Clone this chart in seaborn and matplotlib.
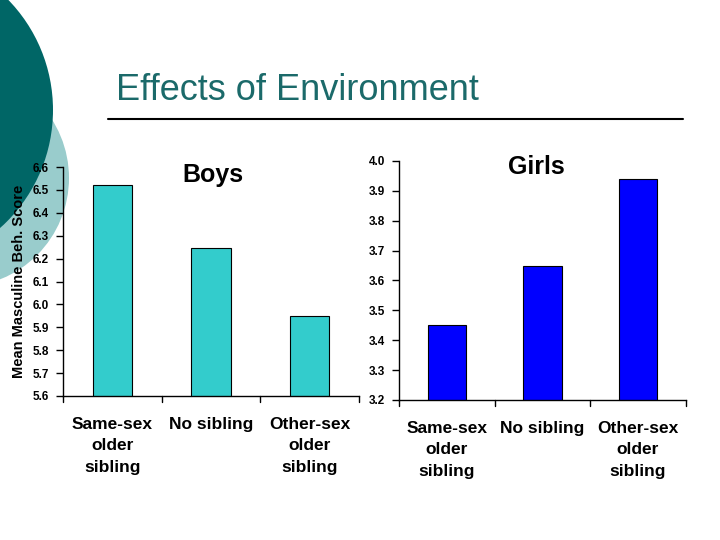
import matplotlib
matplotlib.use("Agg")
import matplotlib.pyplot as plt
import seaborn as sns
import pandas as pd
from matplotlib.patches import Circle

sns.set_style("white")
plt.rcParams["font.family"] = ["Liberation Sans", "DejaVu Sans"]
plt.rcParams["text.color"] = "black"
plt.rcParams["axes.labelcolor"] = "black"
plt.rcParams["xtick.color"] = "black"
plt.rcParams["ytick.color"] = "black"

# Data
categories = ["Same-sex\nolder\nsibling", "No sibling", "Other-sex\nolder\nsibling"]
boys_scores = [6.52, 6.245, 5.95]
girls_scores = [3.45, 3.65, 3.94]

boys_df = pd.DataFrame({"group": categories, "score": boys_scores})
girls_df = pd.DataFrame({"group": categories, "score": girls_scores})

fig = plt.figure(figsize=(7.2, 5.4), dpi=100)

# ---------------------------
# Slide decoration
# ---------------------------
bg = fig.add_axes([0, 0, 1, 1], zorder=0)
bg.set_xlim(0, 720)
bg.set_ylim(540, 0)
bg.axis("off")
bg.add_patch(Circle((-40, 178), 109, color="#99cccc", lw=0))
bg.add_patch(Circle((-105, 110), 158, color="#006666", lw=0))
bg.text(116, 90, "Effects of Environment", fontsize=26, color="#1b6a6a",
        ha="left", va="center")
bg.plot([108, 683], [119, 119], color="black", lw=1.5)


def draw_panel(ax, df, color, ylim, yticks, title, title_x, title_y):
    sns.barplot(data=df, x="group", y="score", color=color, width=0.4,
                edgecolor="black", linewidth=0.8, saturation=1, ax=ax)
    ax.set_ylim(*ylim)
    ax.set_xlim(-0.5, 2.5)
    ax.set_yticks(yticks)
    ax.set_yticklabels([f"{t:.1f}" for t in yticks], fontsize=8.5,
                       fontweight="bold")
    ax.set_xticks([0, 1, 2])
    ax.set_xticklabels(df["group"], fontsize=12.5, fontweight="bold",
                       linespacing=1.55)
    ax.tick_params(axis="x", length=0, pad=15)
    ax.tick_params(axis="y", length=5, width=1, direction="out", pad=5,
                   left=True)
    # category boundary ticks (Excel style)
    for b in [-0.5, 0.5, 1.5, 2.5]:
        ax.plot([b, b], [0, -0.025], transform=ax.get_xaxis_transform(),
                color="black", lw=1, clip_on=False)
    for side in ["top", "right"]:
        ax.spines[side].set_visible(False)
    for side in ["left", "bottom"]:
        ax.spines[side].set_color("black")
        ax.spines[side].set_linewidth(1)
    ax.set_xlabel("")
    ax.set_ylabel("")
    ax.patch.set_alpha(0)
    ax.text(title_x, title_y, title, transform=ax.transAxes, ha="center",
            va="center", fontsize=18, fontweight="bold", color="black")


# ---------------------------
# Boys
# ---------------------------
ax1 = fig.add_axes([0.0875, 0.2667, 0.411, 0.424], zorder=2)
draw_panel(ax1, boys_df, "#33cccc", (5.6, 6.6),
           [5.6, 5.7, 5.8, 5.9, 6.0, 6.1, 6.2, 6.3, 6.4, 6.5, 6.6],
           "Boys", 0.507, 0.965)
ax1.set_ylabel("Mean Masculine Beh. Score", fontsize=10.5, fontweight="bold",
               labelpad=5, color="black")

# ---------------------------
# Girls
# ---------------------------
ax2 = fig.add_axes([0.554, 0.2593, 0.3986, 0.4426], zorder=2)
draw_panel(ax2, girls_df, "#0000ff", (3.2, 4.0),
           [3.2, 3.3, 3.4, 3.5, 3.6, 3.7, 3.8, 3.9, 4.0],
           "Girls", 0.48, 0.975)

plt.savefig("out.png", dpi=100)
plt.close()
